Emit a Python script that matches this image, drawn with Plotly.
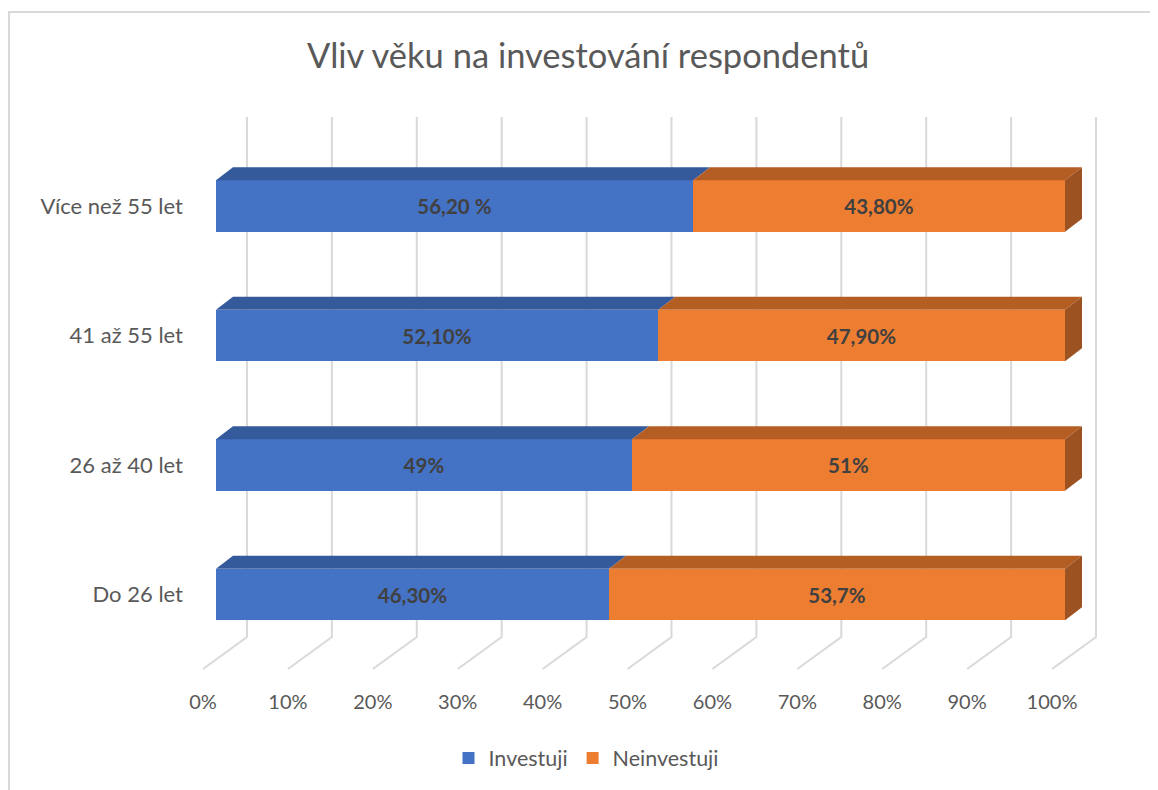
import plotly.graph_objects as go

# ---------------- data ----------------
categories = ["Do 26 let", "26 až 40 let", "41 až 55 let", "Více než 55 let"]
investuji = [46.3, 49.0, 52.1, 56.2]
neinvestuji = [53.7, 51.0, 47.9, 43.8]
investuji_labels = ["46,30%", "49%", "52,10%", "56,20 %"]
neinvestuji_labels = ["53,7%", "51%", "47,90%", "43,80%"]
tick_values = [0, 10, 20, 30, 40, 50, 60, 70, 80, 90, 100]
tick_labels = ["0%", "10%", "20%", "30%", "40%", "50%", "60%", "70%", "80%", "90%", "100%"]
series_names = ["Investuji", "Neinvestuji"]
title_text = "Vliv věku na investování respondentů"

# ---------------- style / geometry ----------------
FONT = "Lato"
BLUE, BLUE_TOP = "#4472C4", "#345A9B"
ORANGE, ORANGE_TOP, ORANGE_SIDE = "#ED7D31", "#B55E24", "#9C5221"
GRID = "#D9D9D9"
TXT = "#595959"
LBL = "#404040"

OFF = 8                       # page body margin of the html page
W, H = 1158 - OFF, 790 - OFF
PL, PR, PT, PB = 190, 1118, 105, 680     # plot area in page pixels
L, R, T, B = PL - OFF, (W + OFF) - PR, PT - OFF, (H + OFF) - PB
XMIN, XMAX = -3.06, 106.24          # bar front-face axis range (percent units)
YMIN, YMAX = -0.660, 3.780
BAR_W = 0.398                         # front face height (category units)
DEPTH_X, DEPTH_Y = 2.0, 0.100         # bar depth offset
WALL_X = 3.65 + 1.53                  # back wall offset relative to floor front
FLOOR_SHIFT = 1.53                    # floor front offset relative to bar front
GRID_TOP, GRID_BOTTOM, FLOOR_FRONT = 3.687, -0.328, -0.575

ys = list(range(len(categories)))
fig = go.Figure()

# gridlines (back wall + floor), on the floor-front axis x (drawn underneath)
for v in tick_values:
    fig.add_trace(go.Scatter(
        x=[v + WALL_X, v + WALL_X, v], y=[GRID_TOP, GRID_BOTTOM, FLOOR_FRONT],
        mode="lines", line=dict(color=GRID, width=2), xaxis="x",
        showlegend=False, hoverinfo="skip"))

# front faces, on the bar-front axis x2 (drawn on top)
for vals, labels, name, col in [(investuji, investuji_labels, series_names[0], BLUE),
                                (neinvestuji, neinvestuji_labels, series_names[1], ORANGE)]:
    fig.add_trace(go.Bar(
        y=ys, x=vals, orientation="h", name=name, width=BAR_W, xaxis="x2",
        marker=dict(color=col, line=dict(width=0)),
        text=labels, textposition="inside", insidetextanchor="middle",
        textangle=0, constraintext="none",
        textfont=dict(family=FONT, size=20.5, color=LBL, weight="bold")))

# 3D top and side faces, derived from the data
h = BAR_W / 2
for i, y in enumerate(ys):
    a = investuji[i]
    b = investuji[i] + neinvestuji[i]
    for x0, x1, col in [(0, a, BLUE_TOP), (a, b, ORANGE_TOP)]:
        fig.add_trace(go.Scatter(
            x=[x0, x0 + DEPTH_X, x1 + DEPTH_X, x1, x0],
            y=[y + h, y + h + DEPTH_Y, y + h + DEPTH_Y, y + h, y + h],
            fill="toself", fillcolor=col, mode="lines", line=dict(width=0),
            xaxis="x2", showlegend=False, hoverinfo="skip"))
    fig.add_trace(go.Scatter(
        x=[b, b + DEPTH_X, b + DEPTH_X, b, b],
        y=[y - h, y - h + DEPTH_Y, y + h + DEPTH_Y, y + h, y - h],
        fill="toself", fillcolor=ORANGE_SIDE, mode="lines", line=dict(width=0),
        xaxis="x2", showlegend=False, hoverinfo="skip"))

pw, ph = PR - PL, PB - PT
fig.update_layout(
    width=W, height=H, autosize=False,
    margin=dict(l=L, r=R, t=T, b=B, pad=0),
    paper_bgcolor="white", plot_bgcolor="white",
    barmode="stack", bargap=0,
    font=dict(family=FONT, color=TXT),
    title=dict(text=title_text, font=dict(family=FONT, size=34.5, color=TXT),
               x=(588 - OFF) / W, xref="container", xanchor="center",
               y=1 - (56 - OFF) / H, yref="container", yanchor="middle"),
    xaxis=dict(range=[XMIN + FLOOR_SHIFT, XMAX + FLOOR_SHIFT],
               showgrid=False, zeroline=False, showline=False, ticks="",
               tickvals=tick_values, ticktext=tick_labels,
               tickfont=dict(family=FONT, size=20, color=TXT),
               ticklabelstandoff=8),
    xaxis2=dict(range=[XMIN, XMAX], overlaying="x", anchor="y", side="bottom",
                showgrid=False, zeroline=False, showline=False,
                showticklabels=False, ticks=""),
    yaxis=dict(range=[YMIN, YMAX], showgrid=False, zeroline=False, showline=False,
               ticks="", tickvals=ys, ticktext=categories,
               tickfont=dict(family=FONT, size=22, color=TXT),
               ticklabelstandoff=6),
    legend=dict(orientation="h", x=(586 - PL) / pw, xanchor="center",
                y=(PB - 758) / ph, yanchor="middle",
                font=dict(family=FONT, size=21.5, color=TXT),
                traceorder="normal", itemwidth=30),
    shapes=[dict(type="rect", xref="paper", yref="paper",
                 x0=(9 - PL) / pw, x1=1.2,
                 y0=-0.4, y1=(PB - 12) / ph,
                 line=dict(color=GRID, width=2), fillcolor="rgba(0,0,0,0)",
                 layer="below")],
)

fig.write_html("out.html")
